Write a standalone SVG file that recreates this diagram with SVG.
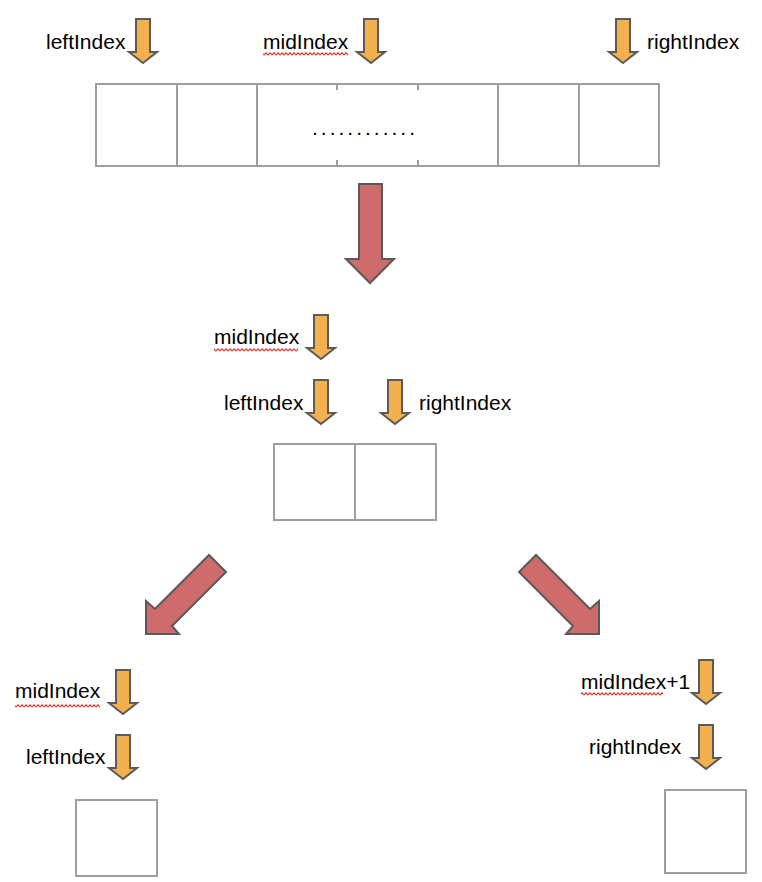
<svg xmlns="http://www.w3.org/2000/svg" width="762" height="882" viewBox="0 0 762 882">
  <style>
    .lbl { font-family: "Liberation Sans", Arial, sans-serif; font-size: 21px; fill: #000; }
    .cell { fill: #fff; stroke: #9e9e9e; stroke-width: 2; }
    .div { stroke: #9e9e9e; stroke-width: 2; fill: none; }
    .ptr { fill: #f4b04f; stroke: #5b5b5b; stroke-width: 2; stroke-linejoin: miter; }
    .big { fill: #cf6b6b; stroke: #595959; stroke-width: 2; stroke-linejoin: miter; }
    .sq { fill: url(#squiggle); }
  </style>
  <defs>
    <path id="down" d="M7,0 H21 V33 H28 L14,44 L0,33 H7 Z"/>
    <pattern id="squiggle" patternUnits="userSpaceOnUse" width="4" height="4">
      <path d="M0,3.2 L2,0.8 L4,3.2" fill="none" stroke="#e0362a" stroke-width="1.1"/>
    </pattern>
  </defs>
  <rect width="762" height="882" fill="#fff"/>

  <g id="top-array">
    <rect class="cell" x="96" y="84" width="563" height="82"/>
    <path class="div" d="M177,84 V166 M257,84 V166 M498,84 V166 M579,84 V166 M337,84 V90 M337,160 V166 M418,84 V90 M418,160 V166"/>
    <text class="lbl" x="312" y="135" letter-spacing="3.0">............</text>
  </g>
  <g id="top-left-pointer">
    <text class="lbl" x="46" y="49">leftIndex</text>
    <use href="#down" class="ptr" x="129" y="19"/>
  </g>
  <g id="top-mid-pointer">
    <text class="lbl" x="263" y="49">midIndex</text>
    <rect class="sq" x="263" y="52" width="85" height="4"/>
    <use href="#down" class="ptr" x="357" y="19"/>
  </g>
  <g id="top-right-pointer">
    <use href="#down" class="ptr" x="609" y="19"/>
    <text class="lbl" x="647" y="49">rightIndex</text>
  </g>

  <g id="mid-array">
    <rect class="cell" x="274" y="444" width="162" height="76"/>
    <path class="div" d="M355,444 V520"/>
  </g>
  <g id="mid-mid-pointer">
    <text class="lbl" x="214" y="344">midIndex</text>
    <rect class="sq" x="214" y="348" width="84" height="4"/>
    <use href="#down" class="ptr" x="307" y="315"/>
  </g>
  <g id="mid-left-pointer">
    <text class="lbl" x="224" y="410">leftIndex</text>
    <use href="#down" class="ptr" x="307" y="380"/>
  </g>
  <g id="mid-right-pointer">
    <use href="#down" class="ptr" x="381" y="380"/>
    <text class="lbl" x="419" y="410">rightIndex</text>
  </g>

  <g id="left-array">
    <rect class="cell" x="76" y="800" width="81" height="76"/>
  </g>
  <g id="left-mid-pointer">
    <text class="lbl" x="15" y="698">midIndex</text>
    <rect class="sq" x="15" y="704" width="85" height="4"/>
    <use href="#down" class="ptr" x="109" y="670"/>
  </g>
  <g id="left-left-pointer">
    <text class="lbl" x="26" y="764">leftIndex</text>
    <use href="#down" class="ptr" x="109" y="735"/>
  </g>

  <g id="right-array">
    <rect class="cell" x="665" y="790" width="81" height="83"/>
  </g>
  <g id="right-mid-pointer">
    <text class="lbl" x="581" y="689">midIndex+1</text>
    <rect class="sq" x="581" y="692" width="82" height="4"/>
    <use href="#down" class="ptr" x="692" y="660"/>
  </g>
  <g id="right-right-pointer">
    <text class="lbl" x="589" y="754">rightIndex</text>
    <use href="#down" class="ptr" x="692" y="725"/>
  </g>

  <g id="connectors">
    <path class="big" d="M359,184 H382 V259 H394 L370,283 L346,259 H359 Z"/>
    <path class="big" d="M209,555 L226,572 L172,626 L179,634 H146 V601 L155,609 Z"/>
    <path class="big" d="M536,555 L519,572 L573,626 L566,634 H599 V601 L590,609 Z"/>
  </g>
</svg>
